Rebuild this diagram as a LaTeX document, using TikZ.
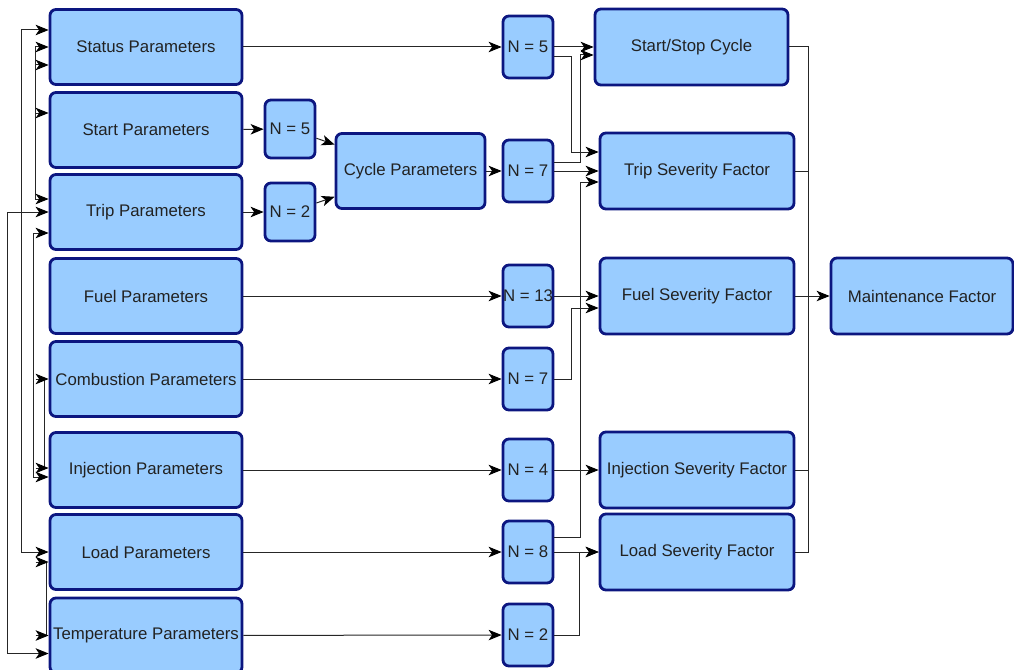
\documentclass[tikz,border=0pt]{standalone}
\usepackage{fontspec}
\setmainfont{Liberation Sans}
\usetikzlibrary{arrows.meta,calc}
\definecolor{boxfill}{HTML}{99CCFF}
\definecolor{boxline}{HTML}{0C1680}
\definecolor{wire}{HTML}{262626}
\definecolor{txt}{HTML}{222222}
\newcommand{\zt}[1]{\makebox[0pt]{#1}}
\begin{document}
\begin{tikzpicture}[x=1pt,y=-1pt,
 box/.style={draw=boxline, fill=boxfill, line width=2.8pt, rounded corners=6pt, inner sep=0pt, font=\fontsize{16.8}{20}\selectfont, text=txt},
 big/.style={box, minimum width=192pt, minimum height=75pt},
 sev/.style={box, minimum width=194pt, minimum height=76pt},
 nbox/.style={box, minimum width=50pt, minimum height=62pt},
 sbox/.style={box, minimum width=50pt, minimum height=58pt},
 wireline/.style={draw=wire, line width=1pt},
 tip/.tip={Stealth[length=13pt,width=10.5pt,inset=3.5pt,color=black]},
 arr/.style={wireline, -tip},
 darr/.style={wireline, tip-tip},
]
\useasboundingbox (0,0) rectangle (1014,669);
\clip (0,0) rectangle (1014,669);

% left column
\node[big] (status) at (146,47)  {\zt{Status Parameters}};
\node[big] (start)  at (146,130) {\zt{Start Parameters}};
\node[big] (trip)   at (146,212) {\zt{Trip Parameters}};
\node[big] (fuel)   at (146,296) {\zt{Fuel Parameters}};
\node[big] (comb)   at (146,379) {\zt{Combustion Parameters}};
\node[big] (inj)    at (146,470) {\zt{Injection Parameters}};
\node[big] (load)   at (146,552) {\zt{Load Parameters}};
\node[big] (temp)   at (146,635.5) {\zt{Temperature Parameters}};

% small N boxes and cycle
\node[sbox] (n5a) at (290,129) {\zt{N = 5}};
\node[sbox] (n2a) at (290,212) {\zt{N = 2}};
\node[box, minimum width=149pt, minimum height=75pt] (cycle) at (410.5,171) {\zt{Cycle Parameters}};

% N column
\node[nbox] (n5top) at (528,47)  {\zt{N = 5}};
\node[nbox] (n7)    at (528,171) {\zt{N = 7}};
\node[nbox] (n13)   at (528,296) {\zt{N = 13}};
\node[nbox] (n7b)   at (528,379) {\zt{N = 7}};
\node[nbox] (n4)    at (528,470) {\zt{N = 4}};
\node[nbox] (n8)    at (528,552) {\zt{N = 8}};
\node[nbox] (n2b)   at (528,635) {\zt{N = 2}};

% severity column
\node[box, minimum width=193pt, minimum height=76pt] (startstop) at (691.5,47) {\zt{Start/Stop Cycle}};
\node[sev] (tripsev) at (697,171) {\zt{Trip Severity Factor}};
\node[sev] (fuelsev) at (697,296) {\zt{Fuel Severity Factor}};
\node[sev] (injsev)  at (697,470) {\zt{Injection Severity Factor}};
\node[sev] (loadsev) at (697,552) {\zt{Load Severity Factor}};
\node[box, minimum width=182pt, minimum height=76pt] (maint) at (922,296) {\zt{Maintenance Factor}};

% left feedback connectors
\draw[darr] ($(status.west)+(0,-17)$) -- ++(-27,0) |- (load.west);
\draw[darr] (status.west) -- ++(-13,0) |- ($(trip.west)+(0,-13)$);
\draw[arr] ($(status.west)+(-13,18)$) -- ($(status.west)+(0,18)$);
\draw[arr] ($(start.west)+(-13,-17)$) -- ($(start.west)+(0,-17)$);
\draw[darr] (trip.west) -- ++(-41,0) |- ($(temp.west)+(0,18)$);
\draw[darr] ($(trip.west)+(0,21)$) -- ++(-15,0) |- ($(inj.west)+(0,7)$);
\draw[wireline] ($(comb.west)+(-4,0)$) -- ($(inj.west)+(-4,-2)$);
\draw[arr] ($(comb.west)+(-13,0)$) -- (comb.west);
\draw[arr] ($(inj.west)+(-13,-2)$) -- ($(inj.west)+(0,-2)$);
\draw[wireline] ($(load.west)+(-2,10)$) -- ($(temp.west)+(-2,0)$);
\draw[arr] ($(load.west)+(-13,10)$) -- ($(load.west)+(0,10)$);
\draw[arr] ($(temp.west)+(-13,0)$) -- (temp.west);

% parameter to N connectors
\draw[arr] (status) -- (n5top);
\draw[arr] (start) -- (n5a);
\draw[arr] (trip) -- (n2a);
\draw[arr] (n5a) -- (cycle);
\draw[arr] (n2a) -- (cycle);
\draw[arr] (cycle) -- (n7);
\draw[arr] (fuel) -- (n13);
\draw[arr] (comb) -- (n7b);
\draw[arr] (inj) -- (n4);
\draw[arr] (load) -- (n8);
\draw[arr] (temp) -- (n2b);

% N to severity connectors
\draw[arr] (n5top) -- (startstop);
\draw[arr] ($(n5top.east)+(0,10)$) -- ++(17,0) |- ($(tripsev.west)+(0,-19)$);
\draw[arr] ($(n7.east)+(0,-9)$) -- ++(26,0) |- ($(startstop.west)+(0,8)$);
\draw[arr] (n7) -- (tripsev);
\draw[arr] ($(n8.east)+(0,-15)$) -- ++(26,0) |- ($(tripsev.west)+(0,11)$);
\draw[arr] (n13) -- (fuelsev);
\draw[arr] (n7b.east) -- ++(17,0) |- ($(fuelsev.west)+(0,12)$);
\draw[arr] (n4) -- (injsev);
\draw[arr] (n8) -- (loadsev);
\draw[arr] (n2b.east) -- ++(25,0) |- (loadsev.west);

% severity to maintenance
\draw[wireline] (startstop.east) -| ($(loadsev.east)+(13,0)$) -- (loadsev.east);
\draw[wireline] (tripsev.east) -- ++(13,0);
\draw[wireline] (injsev.east) -- ++(13,0);
\draw[arr] (fuelsev) -- (maint);
\end{tikzpicture}
\end{document}
